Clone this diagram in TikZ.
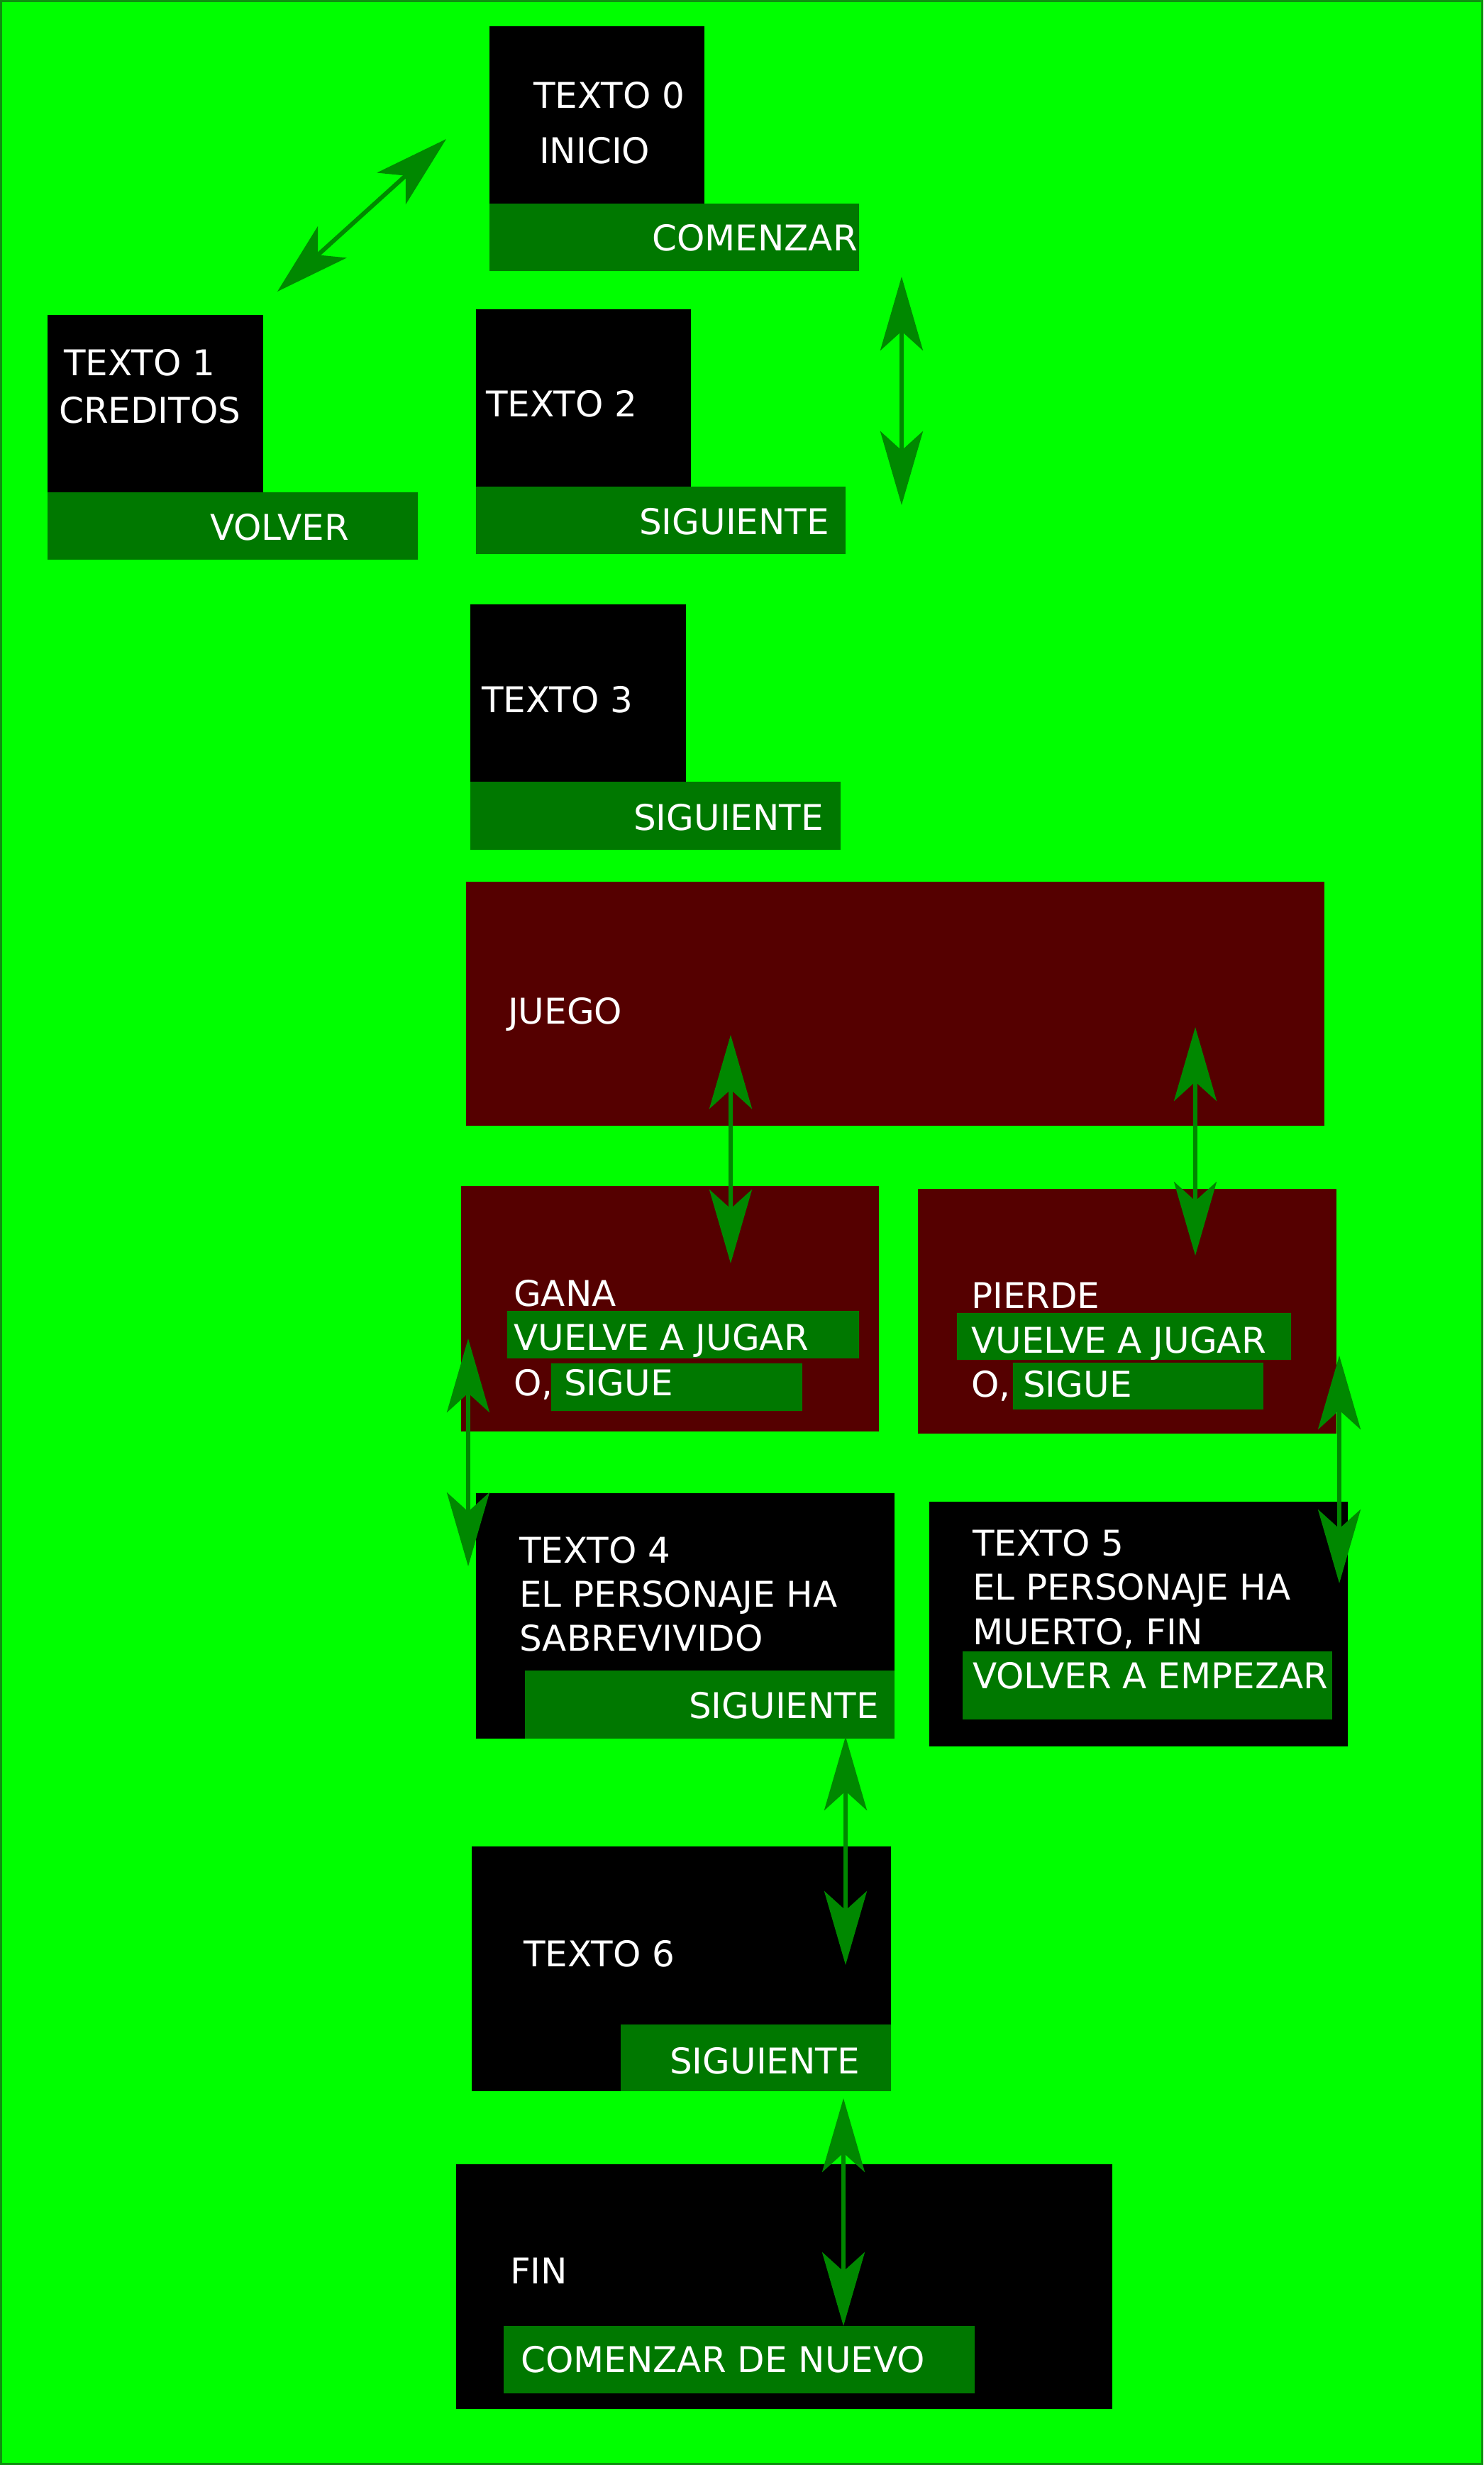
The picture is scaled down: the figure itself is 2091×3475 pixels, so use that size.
\documentclass[tikz,border=0pt]{standalone}
\usepackage{fontspec}
\setmainfont{DejaVu Sans}
\usetikzlibrary{arrows.meta}

\definecolor{bggreen}{RGB}{0,255,0}
\definecolor{framegreen}{RGB}{16,144,16}
\definecolor{btngreen}{RGB}{0,120,0}
\definecolor{arrowgreen}{RGB}{0,136,0}
\definecolor{darkred}{RGB}{85,0,0}

\tikzset{
  screen/.style={fill=black, inner sep=0pt, anchor=north west, draw=none},
  redscreen/.style={fill=darkred, inner sep=0pt, anchor=north west, draw=none},
  button/.style={fill=btngreen, inner sep=0pt, anchor=north west, draw=none},
  lbl/.style={text=white, inner sep=0pt, anchor=base west,
    font=\fontsize{50}{60}\selectfont},
  link/.style={draw=arrowgreen, line width=6pt,
    {Stealth[length=104pt,width=60pt,inset=27pt,fill=arrowgreen]}-{Stealth[length=104pt,width=60pt,inset=27pt,fill=arrowgreen]}},
}

\newcommand{\panel}[6]{% style, name, x1, y1, x2, y2
  \node[#1, minimum width=#5pt-#3pt, minimum height=#6pt-#4pt] (#2) at (#3,#4) {};}

\begin{document}
\begin{tikzpicture}[x=1pt, y=-1pt]
  \useasboundingbox (0,0) rectangle (2091,3475);
  \fill[bggreen] (0,0) rectangle (2091,3475);
  \draw[framegreen, line width=3pt] (1.5,1.5) rectangle (2089.5,3473.5);

  % start screen
  \panel{screen}{t0}{690}{37}{993}{287}
  \panel{button}{t0b}{690}{287}{1211}{382}
  \node[lbl] (t0a) at (752,152) {TEXTO 0};
  \node[lbl] (t0c) at (760,230) {INICIO};
  \node[lbl] (t0d) at (919,353) {COMENZAR};

  % credits
  \panel{screen}{t1}{67}{444}{371}{694}
  \panel{button}{t1b}{67}{694}{589}{789}
  \node[lbl] (t1a) at (90,529) {TEXTO 1};
  \node[lbl] (t1c) at (83,596) {CREDITOS};
  \node[lbl] (t1d) at (296,761) {VOLVER};

  % text 2
  \panel{screen}{t2}{671}{436}{974}{686}
  \panel{button}{t2b}{671}{686}{1192}{781}
  \node[lbl] (t2a) at (685,587) {TEXTO 2};
  \node[lbl] (t2d) at (901,753) {SIGUIENTE};

  % text 3
  \panel{screen}{t3}{663}{852}{967}{1102}
  \panel{button}{t3b}{663}{1102}{1185}{1198}
  \node[lbl] (t3a) at (679,1004) {TEXTO 3};
  \node[lbl] (t3d) at (893,1170) {SIGUIENTE};

  % game
  \panel{redscreen}{juego}{657}{1243}{1867}{1587}
  \node[lbl] (juegoa) at (716,1443) {JUEGO};

  % win
  \panel{redscreen}{gana}{650}{1672}{1239}{2018}
  \panel{button}{ganab1}{715}{1848}{1211}{1915}
  \panel{button}{ganab2}{777}{1922}{1131}{1989}
  \node[lbl] (ganaa) at (724,1841) {GANA};
  \node[lbl] (ganac) at (724,1903) {VUELVE A JUGAR};
  \node[lbl] (ganad) at (724,1967) {O,};
  \node[lbl] (ganae) at (795,1967) {SIGUE};

  % lose
  \panel{redscreen}{pierde}{1294}{1676}{1884}{2021}
  \panel{button}{pierdeb1}{1349}{1851}{1820}{1917}
  \panel{button}{pierdeb2}{1428}{1921}{1781}{1987}
  \node[lbl] (pierdea) at (1369,1844) {PIERDE};
  \node[lbl] (pierdec) at (1369,1907) {VUELVE A JUGAR};
  \node[lbl] (pierded) at (1369,1969) {O,};
  \node[lbl] (pierdee) at (1442,1969) {SIGUE};

  % text 4
  \panel{screen}{t4}{671}{2105}{1261}{2451}
  \panel{button}{t4b}{740}{2355}{1261}{2451}
  \node[lbl] (t4a) at (732,2203) {TEXTO 4};
  \node[lbl] (t4c) at (732,2265) {EL PERSONAJE HA};
  \node[lbl] (t4e) at (732,2327) {SABREVIVIDO};
  \node[lbl] (t4d) at (971,2422) {SIGUIENTE};

  % text 5
  \panel{screen}{t5}{1310}{2117}{1900}{2462}
  \panel{button}{t5b}{1357}{2328}{1878}{2424}
  \node[lbl] (t5a) at (1371,2193) {TEXTO 5};
  \node[lbl] (t5c) at (1371,2255) {EL PERSONAJE HA};
  \node[lbl] (t5e) at (1371,2318) {MUERTO, FIN};
  \node[lbl] (t5d) at (1371,2380) {VOLVER A EMPEZAR};

  % text 6
  \panel{screen}{t6}{665}{2603}{1256}{2948}
  \panel{button}{t6b}{875}{2854}{1256}{2948}
  \node[lbl] (t6a) at (738,2772) {TEXTO 6};
  \node[lbl] (t6d) at (944,2923) {SIGUIENTE};

  % end
  \panel{screen}{fin}{643}{3051}{1568}{3396}
  \panel{button}{finb}{710}{3279}{1374}{3374}
  \node[lbl] (fina) at (719,3219) {FIN};
  \node[lbl] (find) at (734,3344) {COMENZAR DE NUEVO};

  % arrow end points
  \coordinate (c01a) at (391,411);   \coordinate (c01b) at (629,196);
  \coordinate (c02a) at (1271,390);  \coordinate (c02b) at (1271,712);
  \coordinate (cjga) at (1030,1459); \coordinate (cjgb) at (1030,1781);
  \coordinate (cjpa) at (1685,1448); \coordinate (cjpb) at (1685,1770);
  \coordinate (cg4a) at (660,1887);  \coordinate (cg4b) at (660,2208);
  \coordinate (cp5a) at (1888,1911); \coordinate (cp5b) at (1888,2232);
  \coordinate (c46a) at (1192,2448); \coordinate (c46b) at (1192,2770);
  \coordinate (c6fa) at (1189,2958); \coordinate (c6fb) at (1189,3279);

  % transitions
  \draw[link] (c01a) -- (c01b);
  \draw[link] (c02a) -- (c02b);
  \draw[link] (cjga) -- (cjgb);
  \draw[link] (cjpa) -- (cjpb);
  \draw[link] (cg4a) -- (cg4b);
  \draw[link] (cp5a) -- (cp5b);
  \draw[link] (c46a) -- (c46b);
  \draw[link] (c6fa) -- (c6fb);
\end{tikzpicture}
\end{document}
